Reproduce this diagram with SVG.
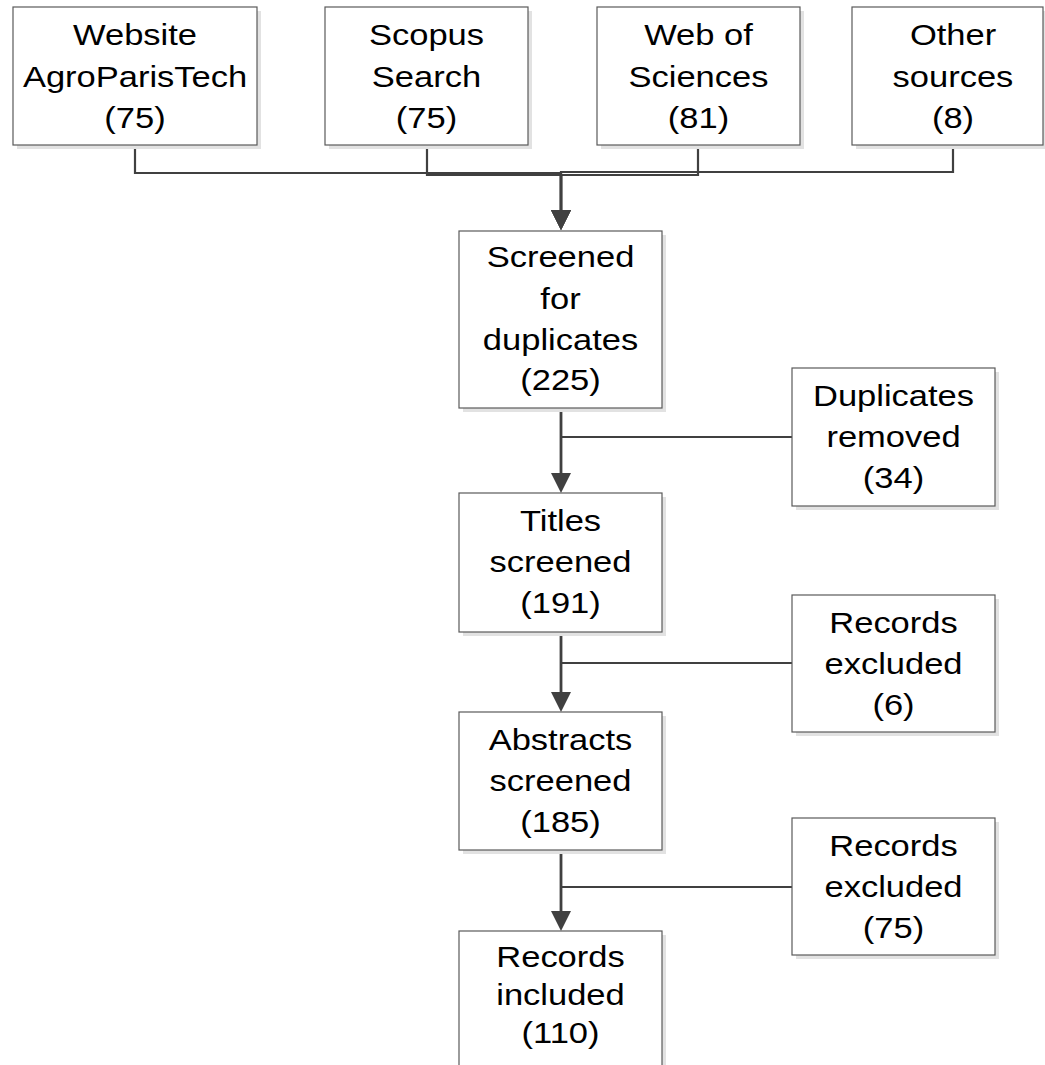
<svg xmlns="http://www.w3.org/2000/svg" width="1045" height="1065" viewBox="0 0 1045 1065">
<style>
  .box { fill: #ffffff; stroke: #5a5a5a; stroke-width: 1.2; }
  .shadow { fill: #e2e2e2; stroke: none; }
  .lbl { font-family: "Liberation Sans", Arial, sans-serif; font-size: 30px; fill: #000000; text-anchor: middle; }
  .conn { fill: none; stroke: #404040; stroke-width: 2.2; }
  .main { fill: none; stroke: #404040; stroke-width: 2.8; }
</style>
<defs>
  <marker id="arrow" viewBox="0 -10 20 20" refX="0" refY="0" markerWidth="20" markerHeight="20" markerUnits="userSpaceOnUse" orient="auto">
    <path d="M0,-10 L20,0 L0,10 z" fill="#404040"/>
  </marker>
</defs>
<rect width="1045" height="1065" fill="#ffffff"/>

<g id="connectors">
  <polyline class="conn" points="135,145 135,173 561,173 561,210" marker-end="url(#arrow)"/>
  <polyline class="conn" points="427,145 427,175 561,175 561,210" marker-end="url(#arrow)"/>
  <polyline class="conn" points="698,145 698,175 561,175 561,210" marker-end="url(#arrow)"/>
  <polyline class="conn" points="953,145 953,172 561,172 561,210" marker-end="url(#arrow)"/>
  <line class="main" x1="561" y1="175" x2="561" y2="211"/>
  <line class="main" x1="561" y1="408" x2="561" y2="473" marker-end="url(#arrow)"/>
  <line class="conn" x1="792" y1="437" x2="561" y2="437"/>
  <line class="main" x1="561" y1="632" x2="561" y2="692" marker-end="url(#arrow)"/>
  <line class="conn" x1="792" y1="663" x2="561" y2="663"/>
  <line class="main" x1="561" y1="850" x2="561" y2="911" marker-end="url(#arrow)"/>
  <line class="conn" x1="792" y1="887" x2="561" y2="887"/>
</g>

<g id="website">
  <rect class="shadow" x="17" y="11" width="244" height="138"/>
  <rect class="box" x="13" y="7" width="244" height="138"/>
  <g transform="translate(135 0) scale(1.15 1)">
    <text class="lbl" x="0" y="45">Website</text>
    <text class="lbl" x="0" y="87">AgroParisTech</text>
    <text class="lbl" x="0" y="128">(75)</text>
  </g>
</g>

<g id="scopus">
  <rect class="shadow" x="329" y="11" width="203" height="138"/>
  <rect class="box" x="325" y="7" width="203" height="138"/>
  <g transform="translate(426.5 0) scale(1.15 1)">
    <text class="lbl" x="0" y="45">Scopus</text>
    <text class="lbl" x="0" y="87">Search</text>
    <text class="lbl" x="0" y="128">(75)</text>
  </g>
</g>

<g id="wos">
  <rect class="shadow" x="601" y="11" width="203" height="138"/>
  <rect class="box" x="597" y="7" width="203" height="138"/>
  <g transform="translate(698.5 0) scale(1.15 1)">
    <text class="lbl" x="0" y="45">Web of</text>
    <text class="lbl" x="0" y="87">Sciences</text>
    <text class="lbl" x="0" y="128">(81)</text>
  </g>
</g>

<g id="other">
  <rect class="shadow" x="856" y="11" width="203" height="138"/>
  <rect class="box" x="852" y="7" width="191" height="138"/>
  <g transform="translate(953 0) scale(1.15 1)">
    <text class="lbl" x="0" y="45">Other</text>
    <text class="lbl" x="0" y="87">sources</text>
    <text class="lbl" x="0" y="128">(8)</text>
  </g>
</g>

<g id="screened">
  <rect class="shadow" x="463" y="235" width="203" height="177"/>
  <rect class="box" x="459" y="231" width="203" height="177"/>
  <g transform="translate(560.5 0) scale(1.15 1)">
    <text class="lbl" x="0" y="267">Screened</text>
    <text class="lbl" x="0" y="309">for</text>
    <text class="lbl" x="0" y="350">duplicates</text>
    <text class="lbl" x="0" y="390">(225)</text>
  </g>
</g>

<g id="duplicates">
  <rect class="shadow" x="796" y="372" width="203" height="138"/>
  <rect class="box" x="792" y="368" width="203" height="138"/>
  <g transform="translate(893.5 0) scale(1.15 1)">
    <text class="lbl" x="0" y="406">Duplicates</text>
    <text class="lbl" x="0" y="447">removed</text>
    <text class="lbl" x="0" y="488">(34)</text>
  </g>
</g>

<g id="titles">
  <rect class="shadow" x="463" y="497" width="203" height="139"/>
  <rect class="box" x="459" y="493" width="203" height="139"/>
  <g transform="translate(560.5 0) scale(1.15 1)">
    <text class="lbl" x="0" y="531">Titles</text>
    <text class="lbl" x="0" y="572">screened</text>
    <text class="lbl" x="0" y="613">(191)</text>
  </g>
</g>

<g id="excluded6">
  <rect class="shadow" x="796" y="599" width="203" height="137"/>
  <rect class="box" x="792" y="595" width="203" height="137"/>
  <g transform="translate(893.5 0) scale(1.15 1)">
    <text class="lbl" x="0" y="633">Records</text>
    <text class="lbl" x="0" y="674">excluded</text>
    <text class="lbl" x="0" y="715">(6)</text>
  </g>
</g>

<g id="abstracts">
  <rect class="shadow" x="463" y="716" width="203" height="138"/>
  <rect class="box" x="459" y="712" width="203" height="138"/>
  <g transform="translate(560.5 0) scale(1.15 1)">
    <text class="lbl" x="0" y="750">Abstracts</text>
    <text class="lbl" x="0" y="791">screened</text>
    <text class="lbl" x="0" y="832">(185)</text>
  </g>
</g>

<g id="excluded75">
  <rect class="shadow" x="796" y="822" width="203" height="137"/>
  <rect class="box" x="792" y="818" width="203" height="137"/>
  <g transform="translate(893.5 0) scale(1.15 1)">
    <text class="lbl" x="0" y="856">Records</text>
    <text class="lbl" x="0" y="897">excluded</text>
    <text class="lbl" x="0" y="938">(75)</text>
  </g>
</g>

<g id="included">
  <rect class="shadow" x="463" y="935" width="203" height="160"/>
  <rect class="box" x="459" y="931" width="203" height="160"/>
  <g transform="translate(560.5 0) scale(1.15 1)">
    <text class="lbl" x="0" y="967">Records</text>
    <text class="lbl" x="0" y="1005">included</text>
    <text class="lbl" x="0" y="1043">(110)</text>
  </g>
</g>
</svg>
